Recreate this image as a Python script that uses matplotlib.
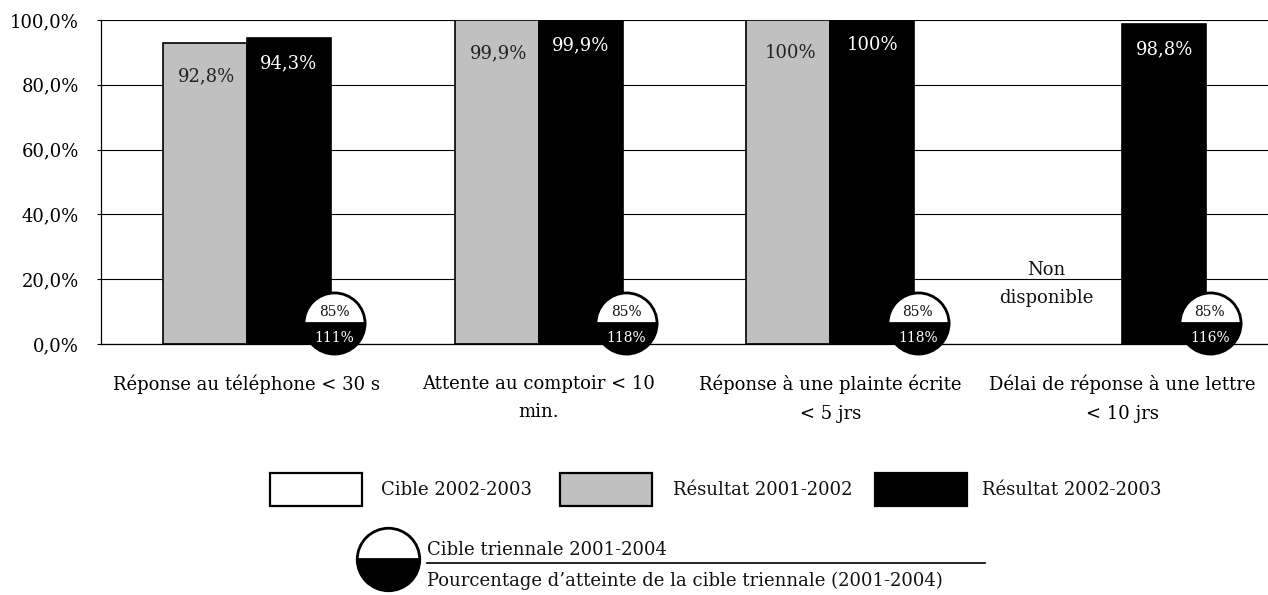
import matplotlib
matplotlib.use("Agg")
import matplotlib.pyplot as plt
import numpy as np
from matplotlib.patches import Rectangle
from matplotlib.lines import Line2D
from matplotlib.ticker import FuncFormatter

# ---------------- data ----------------
categories = [
    "Réponse au téléphone < 30 s",
    "Attente au comptoir < 10\nmin.",
    "Réponse à une plainte écrite\n< 5 jrs",
    "Délai de réponse à une lettre\n< 10 jrs",
]
result_2001_2002 = [92.8, 99.9, 100.0, np.nan]
result_2002_2003 = [94.3, 99.9, 100.0, 98.8]
labels_2001_2002 = ["92,8%", "99,9%", "100%", ""]
labels_2002_2003 = ["94,3%", "99,9%", "100%", "98,8%"]
triennial_target = ["85%", "85%", "85%", "85%"]
triennial_attainment = ["111%", "118%", "118%", "116%"]
unavailable_label = "Non\ndisponible"
legend_labels = ["Cible 2002-2003", "Résultat 2001-2002", "Résultat 2002-2003"]
circle_legend_labels = ["Cible triennale 2001-2004",
                        "Pourcentage d’atteinte de la cible triennale (2001-2004)"]
y_ticks = [0, 20, 40, 60, 80, 100]

# ---------------- style ----------------
plt.rcParams["font.family"] = ["DejaVu Serif"]
FS = 13
GREY = "#c0c0c0"

W, H = 1268, 595
fig = plt.figure(figsize=(W / 100, H / 100), dpi=100)
ax = fig.add_axes([101 / W, 1 - 344 / H, (W - 101) / W, (344 - 20) / H])

x = np.arange(len(categories))
bw = 0.288
off = 0.144
ax.bar(x - off, result_2001_2002, bw, color=GREY, edgecolor="black", linewidth=1.2, zorder=2)
ax.bar(x + off, result_2002_2003, bw, color="black", edgecolor="black", linewidth=1.2, zorder=2)

ax.set_xlim(-0.5, len(categories) - 0.5)
ax.set_ylim(0, 100)
ax.set_yticks(y_ticks)
ax.yaxis.set_major_formatter(FuncFormatter(lambda v, p: f"{v:.1f}%".replace(".", ",")))
ax.yaxis.grid(True, color="black", linewidth=0.8)
ax.set_axisbelow(True)
for s in ["top", "right"]:
    ax.spines[s].set_visible(False)
ax.spines["left"].set_linewidth(0.9)
ax.spines["bottom"].set_linewidth(0.9)
ax.tick_params(axis="y", length=3, width=0.8, labelsize=FS, pad=13)
ax.tick_params(axis="x", length=0, labelsize=FS, pad=22)
ax.set_xticks(x)
ax.set_xticklabels(categories, linespacing=1.75, va="top")

# value labels
for i in range(len(categories)):
    if labels_2001_2002[i]:
        ax.annotate(labels_2001_2002[i], (x[i] - off, result_2001_2002[i]), xytext=(2, -33),
                    textcoords="offset pixels", ha="center", va="center", fontsize=FS,
                    color="#222222", zorder=3)
    if labels_2002_2003[i]:
        ax.annotate(labels_2002_2003[i], (x[i] + off, result_2002_2003[i]), xytext=(0, -25),
                    textcoords="offset pixels", ha="center", va="center", fontsize=FS,
                    color="white", zorder=3)

# not available text
ax.text(x[3] - 0.26, 18.5, unavailable_label, ha="center", va="center", fontsize=FS,
        linespacing=1.75, color="#111111")

# triennial circles
cx = x + 0.30
cy = np.full(len(categories), 6.6)
ax.plot(cx, cy, linestyle="none", marker="o", markersize=44, fillstyle="bottom",
        markerfacecolor="black", markerfacecoloralt="white", markeredgecolor="black",
        markeredgewidth=2.0, clip_on=False, zorder=5)
for i in range(len(categories)):
    ax.annotate(triennial_target[i], (cx[i], cy[i]), xytext=(0, 11), textcoords="offset pixels",
                ha="center", va="center", fontsize=10, color="#111111", zorder=6,
                annotation_clip=False)
    ax.annotate(triennial_attainment[i], (cx[i], cy[i]), xytext=(0, -15), textcoords="offset pixels",
                ha="center", va="center", fontsize=10, color="white", zorder=6,
                annotation_clip=False)

# ---------------- legend (manual) ----------------
def fx(px):
    return px / W

def fy(py):
    return 1 - py / H

box_specs = [("white", 270), (GREY, 560), ("black", 875)]
text_x = [381, 673, 982]
for (fc, bx), lbl, tx in zip(box_specs, legend_labels, text_x):
    fig.add_artist(Rectangle((fx(bx), fy(506)), 92 / W, 33 / H, transform=fig.transFigure,
                             facecolor=fc, edgecolor="black", linewidth=1.6))
    fig.text(fx(tx), fy(490), lbl, ha="left", va="center", fontsize=FS, color="#111111")

fig.add_artist(Line2D([fx(388)], [fy(559)], transform=fig.transFigure, linestyle="none",
                      marker="o", markersize=45, fillstyle="bottom", markerfacecolor="black",
                      markerfacecoloralt="white", markeredgecolor="black", markeredgewidth=2.0))
fig.add_artist(Line2D([fx(427), fx(985)], [fy(563), fy(563)], transform=fig.transFigure,
                      color="black", linewidth=1.2))
fig.text(fx(427), fy(550), circle_legend_labels[0], ha="left", va="center", fontsize=FS, color="#111111")
fig.text(fx(427), fy(581), circle_legend_labels[1], ha="left", va="center", fontsize=FS, color="#111111")

fig.savefig("out.png", dpi=100)
